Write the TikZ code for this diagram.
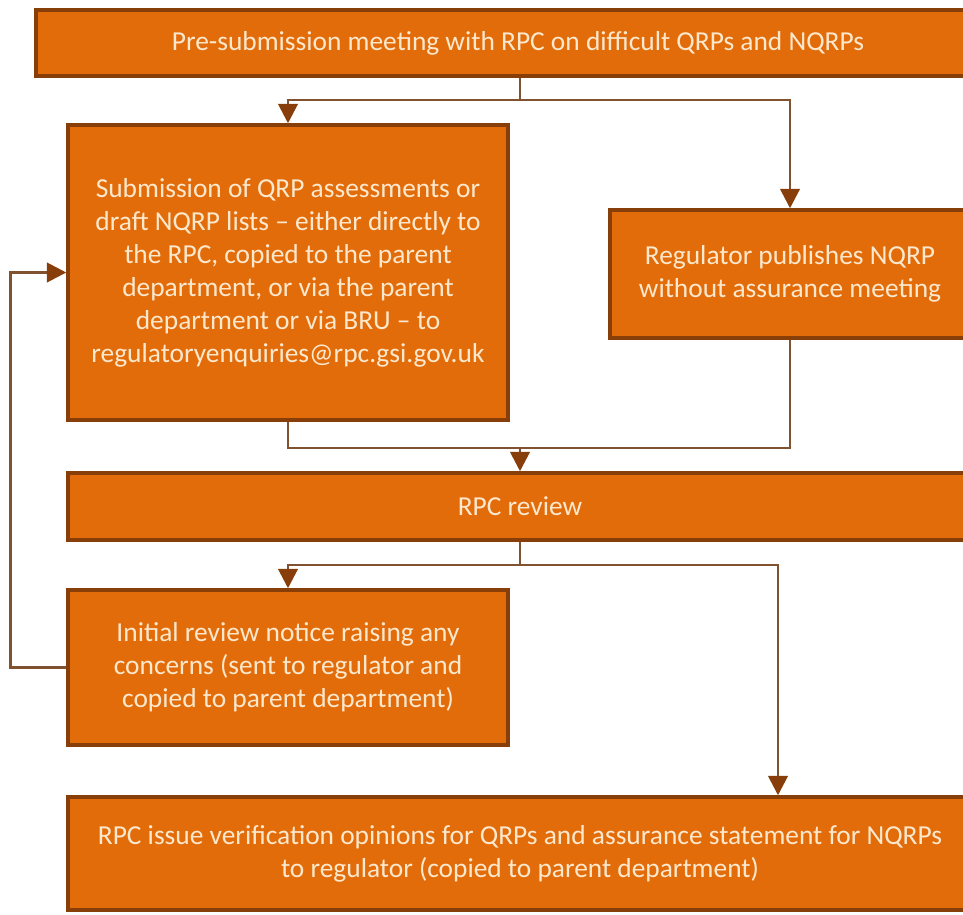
\documentclass[tikz,border=0pt]{standalone}
\usepackage{fontspec}
\setmainfont{Carlito}
\usetikzlibrary{arrows.meta,calc}
\definecolor{boxfill}{RGB}{227,108,10}
\definecolor{boxline}{RGB}{135,62,8}
\definecolor{conn}{RGB}{128,82,48}
\definecolor{tip}{RGB}{135,62,10}
\definecolor{boxtext}{RGB}{252,232,205}
\begin{document}
\begin{tikzpicture}[x=0.02cm,y=-0.02cm,
  box/.style={draw=boxline,line width=2pt,fill=boxfill,text=boxtext,
    align=center,inner sep=0pt,font=\fontsize{15.6}{18.8}\selectfont},
  link/.style={draw=conn,line width=1.6pt},
  arr/.style={link,-{Triangle[width=11pt,length=11pt,color=tip]}}]
  \useasboundingbox (0,0) rectangle (963,914);
  \node[box,minimum width=19.28cm,minimum height=1.32cm] (pre) at (518,43)
    {Pre-submission meeting with RPC on difficult QRPs and NQRPs};
  \node[box,minimum width=8.8cm,minimum height=5.9cm] (sub) at (288,272.5)
    {Submission of QRP assessments or\\draft NQRP lists -- either directly to\\
     the RPC, copied to the parent\\department, or via the parent\\
     department or via BRU -- to\\regulatoryenquiries@rpc.gsi.gov.uk};
  \node[box,minimum width=7.2cm,minimum height=2.56cm] (reg) at (790,274)
    {Regulator publishes NQRP\\without assurance meeting};
  \node[box,minimum width=18.08cm,minimum height=1.34cm] (rev) at (520,506.5)
    {RPC review};
  \node[box,minimum width=8.8cm,minimum height=3.1cm] (ini) at (288,667.5)
    {Initial review notice raising any\\concerns (sent to regulator and\\
     copied to parent department)};
  \node[box,minimum width=18.08cm,minimum height=2.26cm] (fin) at (520,853.5)
    {RPC issue verification opinions for QRPs and assurance statement for NQRPs\\
     to regulator (copied to parent department)};
  \coordinate (j1) at (520,100);
  \coordinate (j2) at (520,448);
  \coordinate (j3) at (520,565);
  \coordinate (j4) at (778,565);
  \draw[link] (pre.south -| j1) -- (j1);
  \draw[arr] (j1) -| (sub.north);
  \draw[arr] (j1) -| (reg.north);
  \draw[link] (sub.south) |- (j2) -| (reg.south);
  \draw[arr] (j2) -- (rev.north -| j2);
  \draw[link] (rev.south -| j3) -- (j3);
  \draw[arr] (j3) -| (ini.north);
  \draw[arr] (j3) -- (j4) -- (fin.north -| j4);
  \draw[arr] (ini.west) -- ++(-56,0) |- (sub.west);
\end{tikzpicture}
\end{document}
